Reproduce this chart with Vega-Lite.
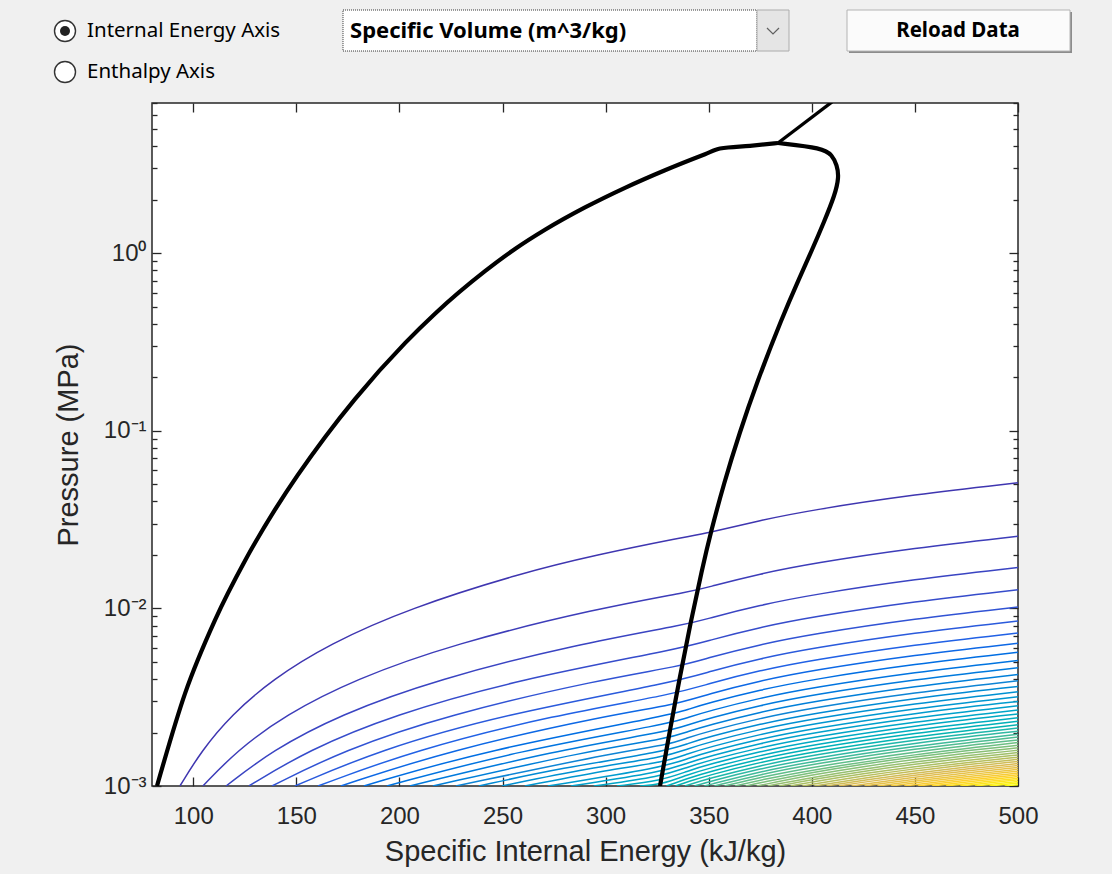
{
  "$schema": "https://vega.github.io/schema/vega-lite/v6.json",
  "width": 866,
  "height": 683,
  "autosize": {"type": "none"},
  "padding": {"left": 152, "top": 103, "right": 94, "bottom": 88},
  "background": "#f0f0f0",
  "view": {"fill": "white", "stroke": "#262626", "strokeWidth": 1.5},
  "config": {"font": "Liberation Sans"},
  "resolve": {"axis": {"x": "independent", "y": "independent"}},
  "datasets": {
    "contours": [
      {"k":1,"u":93.55,"p":0.001},{"k":1,"u":104.1,"p":0.001585},{"k":1,"u":118.5,"p":0.002512},{"k":1,"u":138.4,"p":0.003981},{"k":1,"u":166,"p":0.00631},{"k":1,"u":204.7,"p":0.01},{"k":1,"u":259.5,"p":0.01585},{"k":1,"u":295.1,"p":0.01995},{"k":1,"u":337.6,"p":0.02512},{"k":1,"u":349.3,"p":0.0265},{"k":1,"u":375,"p":0.03133},{"k":1,"u":400,"p":0.03579},{"k":1,"u":450,"p":0.04379},{"k":1,"u":500,"p":0.05089},
      {"k":2,"u":104.7,"p":0.001},{"k":2,"u":121.2,"p":0.001585},{"k":2,"u":144.7,"p":0.002512},{"k":2,"u":178.2,"p":0.003981},{"k":2,"u":226.3,"p":0.00631},{"k":2,"u":295.9,"p":0.01},{"k":2,"u":343.9,"p":0.01258},{"k":2,"u":350,"p":0.01322},{"k":2,"u":375,"p":0.01567},{"k":2,"u":400,"p":0.0179},{"k":2,"u":450,"p":0.0219},{"k":2,"u":500,"p":0.02545},
      {"k":3,"u":115.9,"p":0.001},{"k":3,"u":138.3,"p":0.001585},{"k":3,"u":170.8,"p":0.002512},{"k":3,"u":217.9,"p":0.003981},{"k":3,"u":286.7,"p":0.00631},{"k":3,"u":340.9,"p":0.00817},{"k":3,"u":350,"p":0.008813},{"k":3,"u":375,"p":0.01044},{"k":3,"u":400,"p":0.01193},{"k":3,"u":450,"p":0.0146},{"k":3,"u":500,"p":0.01696},
      {"k":4,"u":127,"p":0.001},{"k":4,"u":155.4,"p":0.001585},{"k":4,"u":196.9,"p":0.002512},{"k":4,"u":257.7,"p":0.003981},{"k":4,"u":338.7,"p":0.00601},{"k":4,"u":350,"p":0.00661},{"k":4,"u":375,"p":0.007833},{"k":4,"u":400,"p":0.008948},{"k":4,"u":450,"p":0.01095},{"k":4,"u":500,"p":0.01272},
      {"k":5,"u":138.2,"p":0.001},{"k":5,"u":172.6,"p":0.001585},{"k":5,"u":223.1,"p":0.002512},{"k":5,"u":297.5,"p":0.003981},{"k":5,"u":337,"p":0.004734},{"k":5,"u":350,"p":0.005288},{"k":5,"u":375,"p":0.006266},{"k":5,"u":400,"p":0.007158},{"k":5,"u":450,"p":0.008758},{"k":5,"u":500,"p":0.01018},
      {"k":6,"u":149.3,"p":0.001},{"k":6,"u":189.7,"p":0.001585},{"k":6,"u":249.2,"p":0.002512},{"k":6,"u":335.6,"p":0.003895},{"k":6,"u":350,"p":0.004407},{"k":6,"u":375,"p":0.005222},{"k":6,"u":400,"p":0.005965},{"k":6,"u":450,"p":0.007298},{"k":6,"u":500,"p":0.008482},
      {"k":7,"u":160.5,"p":0.001},{"k":7,"u":206.8,"p":0.001585},{"k":7,"u":275.3,"p":0.002512},{"k":7,"u":334.5,"p":0.003303},{"k":7,"u":350,"p":0.003777},{"k":7,"u":375,"p":0.004476},{"k":7,"u":400,"p":0.005113},{"k":7,"u":450,"p":0.006256},{"k":7,"u":500,"p":0.00727},
      {"k":8,"u":171.6,"p":0.001},{"k":8,"u":223.9,"p":0.001585},{"k":8,"u":301.4,"p":0.002512},{"k":8,"u":333.5,"p":0.002862},{"k":8,"u":350,"p":0.003305},{"k":8,"u":375,"p":0.003916},{"k":8,"u":400,"p":0.004474},{"k":8,"u":450,"p":0.005474},{"k":8,"u":500,"p":0.006361},
      {"k":9,"u":182.75,"p":0.001},{"k":9,"u":241,"p":0.001585},{"k":9,"u":332.6,"p":0.002522},{"k":9,"u":340,"p":0.002703},{"k":9,"u":350,"p":0.002938},{"k":9,"u":375,"p":0.003481},{"k":9,"u":400,"p":0.003977},{"k":9,"u":450,"p":0.004866},{"k":9,"u":500,"p":0.005654},
      {"k":10,"u":193.9,"p":0.001},{"k":10,"u":258.1,"p":0.001585},{"k":10,"u":331.9,"p":0.002253},{"k":10,"u":340,"p":0.002433},{"k":10,"u":350,"p":0.002644},{"k":10,"u":375,"p":0.003133},{"k":10,"u":400,"p":0.003579},{"k":10,"u":450,"p":0.004379},{"k":10,"u":500,"p":0.005089},
      {"k":11,"u":205.05,"p":0.001},{"k":11,"u":275.2,"p":0.001585},{"k":11,"u":331.2,"p":0.002034},{"k":11,"u":340,"p":0.002212},{"k":11,"u":350,"p":0.002404},{"k":11,"u":375,"p":0.002848},{"k":11,"u":400,"p":0.003254},{"k":11,"u":450,"p":0.003981},{"k":11,"u":500,"p":0.004626},
      {"k":12,"u":216.2,"p":0.001},{"k":12,"u":292.3,"p":0.001585},{"k":12,"u":330.5,"p":0.001853},{"k":12,"u":340,"p":0.002028},{"k":12,"u":350,"p":0.002203},{"k":12,"u":375,"p":0.002611},{"k":12,"u":400,"p":0.002983},{"k":12,"u":450,"p":0.003649},{"k":12,"u":500,"p":0.004241},
      {"k":13,"u":227.35,"p":0.001},{"k":13,"u":309.4,"p":0.001585},{"k":13,"u":330,"p":0.0017},{"k":13,"u":340,"p":0.001872},{"k":13,"u":350,"p":0.002034},{"k":13,"u":375,"p":0.00241},{"k":13,"u":400,"p":0.002753},{"k":13,"u":450,"p":0.003368},{"k":13,"u":500,"p":0.003915},
      {"k":14,"u":238.5,"p":0.001},{"k":14,"u":277.8,"p":0.001259},{"k":14,"u":329.4,"p":0.00157},{"k":14,"u":340,"p":0.001738},{"k":14,"u":350,"p":0.001889},{"k":14,"u":375,"p":0.002238},{"k":14,"u":400,"p":0.002556},{"k":14,"u":450,"p":0.003128},{"k":14,"u":500,"p":0.003635},
      {"k":15,"u":249.65,"p":0.001},{"k":15,"u":291.6,"p":0.001259},{"k":15,"u":328.9,"p":0.001457},{"k":15,"u":340,"p":0.001622},{"k":15,"u":350,"p":0.001763},{"k":15,"u":375,"p":0.002089},{"k":15,"u":400,"p":0.002386},{"k":15,"u":450,"p":0.002919},{"k":15,"u":500,"p":0.003393},
      {"k":16,"u":260.8,"p":0.001},{"k":16,"u":305.4,"p":0.001259},{"k":16,"u":328.45,"p":0.00136},{"k":16,"u":340,"p":0.001521},{"k":16,"u":350,"p":0.001653},{"k":16,"u":375,"p":0.001958},{"k":16,"u":400,"p":0.002237},{"k":16,"u":450,"p":0.002737},{"k":16,"u":500,"p":0.003181},
      {"k":17,"u":271.95,"p":0.001},{"k":17,"u":328,"p":0.001274},{"k":17,"u":340,"p":0.001431},{"k":17,"u":350,"p":0.001555},{"k":17,"u":375,"p":0.001843},{"k":17,"u":400,"p":0.002105},{"k":17,"u":450,"p":0.002576},{"k":17,"u":500,"p":0.002994},
      {"k":18,"u":283.1,"p":0.001},{"k":18,"u":327.6,"p":0.001198},{"k":18,"u":340,"p":0.001352},{"k":18,"u":350,"p":0.001469},{"k":18,"u":375,"p":0.001741},{"k":18,"u":400,"p":0.001988},{"k":18,"u":450,"p":0.002433},{"k":18,"u":500,"p":0.002827},
      {"k":19,"u":294.25,"p":0.001},{"k":19,"u":327.2,"p":0.001131},{"k":19,"u":340,"p":0.001281},{"k":19,"u":350,"p":0.001392},{"k":19,"u":375,"p":0.001649},{"k":19,"u":400,"p":0.001884},{"k":19,"u":450,"p":0.002305},{"k":19,"u":500,"p":0.002678},
      {"k":20,"u":305.4,"p":0.001},{"k":20,"u":326.8,"p":0.00107},{"k":20,"u":340,"p":0.001217},{"k":20,"u":350,"p":0.001322},{"k":20,"u":375,"p":0.001567},{"k":20,"u":400,"p":0.00179},{"k":20,"u":450,"p":0.00219},{"k":20,"u":500,"p":0.002545},
      {"k":21,"u":316.55,"p":0.001},{"k":21,"u":326.5,"p":0.001015},{"k":21,"u":340,"p":0.001159},{"k":21,"u":350,"p":0.001259},{"k":21,"u":375,"p":0.001492},{"k":21,"u":400,"p":0.001704},{"k":21,"u":450,"p":0.002085},{"k":21,"u":500,"p":0.002423},
      {"k":22,"u":329.5,"p":0.001},{"k":22,"u":340,"p":0.001106},{"k":22,"u":350,"p":0.001202},{"k":22,"u":375,"p":0.001424},{"k":22,"u":400,"p":0.001627},{"k":22,"u":450,"p":0.00199},{"k":22,"u":500,"p":0.002313},
      {"k":23,"u":333.9,"p":0.001},{"k":23,"u":340,"p":0.001058},{"k":23,"u":350,"p":0.00115},{"k":23,"u":375,"p":0.001362},{"k":23,"u":400,"p":0.001556},{"k":23,"u":450,"p":0.001904},{"k":23,"u":500,"p":0.002213},
      {"k":24,"u":338.5,"p":0.001},{"k":24,"u":350,"p":0.001102},{"k":24,"u":375,"p":0.001305},{"k":24,"u":400,"p":0.001491},{"k":24,"u":450,"p":0.001825},{"k":24,"u":500,"p":0.00212},
      {"k":25,"u":343.15,"p":0.001},{"k":25,"u":350,"p":0.001058},{"k":25,"u":375,"p":0.001253},{"k":25,"u":400,"p":0.001432},{"k":25,"u":450,"p":0.001752},{"k":25,"u":500,"p":0.002036},
      {"k":26,"u":347.9,"p":0.001},{"k":26,"u":375,"p":0.001205},{"k":26,"u":400,"p":0.001377},{"k":26,"u":450,"p":0.001684},{"k":26,"u":500,"p":0.001957},
      {"k":27,"u":352.8,"p":0.001},{"k":27,"u":375,"p":0.00116},{"k":27,"u":400,"p":0.001326},{"k":27,"u":450,"p":0.001622},{"k":27,"u":500,"p":0.001885},
      {"k":28,"u":357.7,"p":0.001},{"k":28,"u":375,"p":0.001119},{"k":28,"u":400,"p":0.001278},{"k":28,"u":450,"p":0.001564},{"k":28,"u":500,"p":0.001818},
      {"k":29,"u":362.8,"p":0.001},{"k":29,"u":375,"p":0.00108},{"k":29,"u":400,"p":0.001234},{"k":29,"u":450,"p":0.00151},{"k":29,"u":500,"p":0.001755},
      {"k":30,"u":367.95,"p":0.001},{"k":30,"u":375,"p":0.001044},{"k":30,"u":400,"p":0.001193},{"k":30,"u":425,"p":0.001331},{"k":30,"u":450,"p":0.00146},{"k":30,"u":475,"p":0.001581},{"k":30,"u":500,"p":0.001696},
      {"k":31,"u":373.3,"p":0.001},{"k":31,"u":400,"p":0.001155},{"k":31,"u":425,"p":0.001288},{"k":31,"u":450,"p":0.001413},{"k":31,"u":475,"p":0.00153},{"k":31,"u":500,"p":0.001642},
      {"k":32,"u":378.6,"p":0.001},{"k":32,"u":400,"p":0.001118},{"k":32,"u":425,"p":0.001248},{"k":32,"u":450,"p":0.001368},{"k":32,"u":475,"p":0.001483},{"k":32,"u":500,"p":0.00159},
      {"k":33,"u":384.1,"p":0.001},{"k":33,"u":400,"p":0.001085},{"k":33,"u":425,"p":0.00121},{"k":33,"u":450,"p":0.001327},{"k":33,"u":475,"p":0.001438},{"k":33,"u":500,"p":0.001542},
      {"k":34,"u":389.7,"p":0.001},{"k":34,"u":400,"p":0.001053},{"k":34,"u":425,"p":0.001174},{"k":34,"u":450,"p":0.001288},{"k":34,"u":475,"p":0.001395},{"k":34,"u":500,"p":0.001497},
      {"k":35,"u":395.4,"p":0.001},{"k":35,"u":425,"p":0.001141},{"k":35,"u":450,"p":0.001251},{"k":35,"u":475,"p":0.001355},{"k":35,"u":500,"p":0.001454},
      {"k":36,"u":401.2,"p":0.001},{"k":36,"u":425,"p":0.001109},{"k":36,"u":450,"p":0.001216},{"k":36,"u":475,"p":0.001318},{"k":36,"u":500,"p":0.001414},
      {"k":37,"u":407.1,"p":0.001},{"k":37,"u":425,"p":0.001079},{"k":37,"u":450,"p":0.001184},{"k":37,"u":475,"p":0.001282},{"k":37,"u":500,"p":0.001375},
      {"k":38,"u":413.2,"p":0.001},{"k":38,"u":425,"p":0.001051},{"k":38,"u":450,"p":0.001152},{"k":38,"u":475,"p":0.001248},{"k":38,"u":500,"p":0.001339},
      {"k":39,"u":419.3,"p":0.001},{"k":39,"u":450,"p":0.001123},{"k":39,"u":475,"p":0.001216},{"k":39,"u":500,"p":0.001305},
      {"k":40,"u":425.5,"p":0.001},{"k":40,"u":450,"p":0.001095},{"k":40,"u":475,"p":0.001186},{"k":40,"u":500,"p":0.001272},
      {"k":41,"u":431.8,"p":0.001},{"k":41,"u":450,"p":0.001068},{"k":41,"u":475,"p":0.001157},{"k":41,"u":500,"p":0.001241},
      {"k":42,"u":438.3,"p":0.001},{"k":42,"u":450,"p":0.001043},{"k":42,"u":475,"p":0.00113},{"k":42,"u":500,"p":0.001212},
      {"k":43,"u":444.8,"p":0.001},{"k":43,"u":475,"p":0.001103},{"k":43,"u":500,"p":0.001183},
      {"k":44,"u":451.4,"p":0.001},{"k":44,"u":475,"p":0.001078},{"k":44,"u":500,"p":0.001157},
      {"k":45,"u":458.2,"p":0.001},{"k":45,"u":475,"p":0.001054},{"k":45,"u":500,"p":0.001131},
      {"k":46,"u":465,"p":0.001},{"k":46,"u":475,"p":0.001031},{"k":46,"u":500,"p":0.001106},
      {"k":47,"u":472,"p":0.001},{"k":47,"u":500,"p":0.001083},
      {"k":48,"u":479.1,"p":0.001},{"k":48,"u":500,"p":0.00106},
      {"k":49,"u":486.2,"p":0.001},{"k":49,"u":500,"p":0.001039},
      {"k":50,"u":493.5,"p":0.001},{"k":50,"u":500,"p":0.001018}
    ],
    "liquid": [
      {"u":82.42,"p":0.001},{"u":96,"p":0.003313},{"u":110.55,"p":0.00859},{"u":125.1,"p":0.01855},{"u":139.65,"p":0.03593},{"u":163.9,"p":0.09196},{"u":178.45,"p":0.1507},{"u":202.7,"p":0.3114},{"u":217.25,"p":0.4559},{"u":241.5,"p":0.791},{"u":256.05,"p":1.0546},{"u":270.6,"p":1.3529},{"u":290,"p":1.8082},{"u":309.4,"p":2.3321},{"u":328.8,"p":2.9295},{"u":348.2,"p":3.6048},{"u":355.48,"p":3.8815},{"u":370.03,"p":4.0197},{"u":383.6,"p":4.168}
    ],
    "vapor": [
      {"i":0,"u":383.6,"p":4.168},{"i":1,"u":405.4,"p":3.905},{"i":2,"u":409.8,"p":3.566},{"i":3,"u":412.2,"p":3.133},{"i":4,"u":413.2,"p":2.683},{"i":5,"u":411.2,"p":2.124},{"i":6,"u":405.9,"p":1.496},{"i":7,"u":400.1,"p":1.041},{"i":8,"u":393.98,"p":0.7244},{"i":9,"u":385.69,"p":0.4368},{"i":10,"u":373.23,"p":0.1857},{"i":11,"u":364.93,"p":0.09712},{"i":12,"u":357.41,"p":0.05077},{"i":13,"u":350.91,"p":0.02656},{"i":14,"u":346.69,"p":0.01644},{"i":15,"u":341.17,"p":0.008273},{"i":16,"u":335.98,"p":0.004108},{"i":17,"u":330.59,"p":0.001888},{"i":18,"u":326.38,"p":0.001}
    ],
    "supercritical": [
      {"u":383.6,"p":4.168},{"u":409.8,"p":7.09}
    ]
  },
  "layer": [
    {
      "data": {"name": "contours"},
      "mark": {"type": "line", "interpolate": "basis", "strokeWidth": 1.5, "clip": true},
      "encoding": {
        "x": {"field": "u", "type": "quantitative", "scale": {"domain": [80, 500], "nice": false, "zero": false},
          "axis": {"orient": "bottom", "values": [100, 150, 200, 250, 300, 350, 400, 450, 500], "offset": -9, "tickSize": 9, "tickWidth": 1.3, "tickColor": "#262626", "domain": false, "grid": false, "labelFont": "Liberation Sans", "labelFontSize": 24, "labelColor": "#262626", "labelPadding": 18, "labelFlush": false, "labelOverlap": false, "labelBound": false, "title": "Specific Internal Energy (kJ/kg)", "titleFont": "Liberation Sans", "titleFontSize": 29, "titleFontWeight": "normal", "titleColor": "#262626", "titlePadding": 9}},
        "y": {"field": "p", "type": "quantitative", "scale": {"type": "log", "domain": [0.001, 7], "nice": false},
          "axis": {"orient": "left", "values": [0.001, 0.01, 0.1, 1], "offset": -9, "tickSize": 9, "tickWidth": 1.3, "tickColor": "#262626", "domain": false, "grid": false, "labelExpr": "datum.value < 0.005 ? '10⁻³' : datum.value < 0.05 ? '10⁻²' : datum.value < 0.5 ? '10⁻¹' : '10⁰'", "labelFont": "Liberation Sans", "labelFontSize": 24, "labelColor": "#262626", "labelPadding": 6, "labelFlush": false, "labelOverlap": false, "labelBound": false, "title": "Pressure (MPa)", "titleFont": "Liberation Sans", "titleFontSize": 29, "titleFontWeight": "normal", "titleColor": "#262626", "titlePadding": 20}},
        "detail": {"field": "k", "type": "nominal"},
        "color": {"field": "k", "type": "quantitative", "legend": null,
          "scale": {"domain": [1, 7.125, 13.25, 19.375, 25.5, 31.625, 37.75, 43.875, 50], "range": ["#3f36b0", "#1f62e6", "#1485d4", "#06a7c6", "#38b99e", "#92bf73", "#d9ba56", "#fcce2e", "#f9fb0e"]}}
      }
    },
    {
      "data": {"name": "liquid"},
      "mark": {"type": "line", "interpolate": "monotone", "strokeWidth": 4.2, "color": "black", "clip": true, "strokeJoin": "round"},
      "encoding": {
        "x": {"field": "u", "type": "quantitative", "scale": {"domain": [80, 500], "nice": false, "zero": false},
          "axis": {"orient": "top", "values": [100, 150, 200, 250, 300, 350, 400, 450, 500], "offset": -9, "tickSize": 9, "tickWidth": 1.3, "tickColor": "#262626", "domain": false, "grid": false, "labels": false, "title": null}},
        "y": {"field": "p", "type": "quantitative", "scale": {"type": "log", "domain": [0.001, 7], "nice": false},
          "axis": {"orient": "right", "values": [0.001, 0.01, 0.1, 1], "offset": -9, "tickSize": 9, "tickWidth": 1.3, "tickColor": "#262626", "domain": false, "grid": false, "labels": false, "title": null}}
      }
    },
    {
      "data": {"name": "vapor"},
      "mark": {"type": "line", "interpolate": "basis", "strokeWidth": 4.2, "color": "black", "clip": true, "strokeJoin": "round"},
      "encoding": {
        "x": {"field": "u", "type": "quantitative", "scale": {"domain": [80, 500], "nice": false, "zero": false}, "axis": null},
        "y": {"field": "p", "type": "quantitative", "scale": {"type": "log", "domain": [0.001, 7], "nice": false},
          "axis": {"orient": "left", "values": [0.002, 0.003, 0.004, 0.005, 0.006, 0.007, 0.008, 0.009, 0.02, 0.03, 0.04, 0.05, 0.06, 0.07, 0.08, 0.09, 0.2, 0.3, 0.4, 0.5, 0.6, 0.7, 0.8, 0.9, 2, 3, 4, 5, 6, 7], "offset": -5, "tickSize": 5, "tickWidth": 1.3, "tickColor": "#262626", "domain": false, "grid": false, "labels": false, "title": null}},
        "order": {"field": "i", "type": "quantitative"}
      }
    },
    {
      "data": {"name": "supercritical"},
      "mark": {"type": "line", "strokeWidth": 3.4, "color": "black", "clip": true},
      "encoding": {
        "x": {"field": "u", "type": "quantitative", "scale": {"domain": [80, 500], "nice": false, "zero": false}, "axis": null},
        "y": {"field": "p", "type": "quantitative", "scale": {"type": "log", "domain": [0.001, 7], "nice": false},
          "axis": {"orient": "right", "values": [0.002, 0.003, 0.004, 0.005, 0.006, 0.007, 0.008, 0.009, 0.02, 0.03, 0.04, 0.05, 0.06, 0.07, 0.08, 0.09, 0.2, 0.3, 0.4, 0.5, 0.6, 0.7, 0.8, 0.9, 2, 3, 4, 5, 6, 7], "offset": -5, "tickSize": 5, "tickWidth": 1.3, "tickColor": "#262626", "domain": false, "grid": false, "labels": false, "title": null}}
      }
    },
    {
      "data": {"values": [{"control": "radio 1"}]},
      "mark": {"type": "point", "shape": "circle", "size": 441, "filled": true, "fill": "white", "stroke": "#333333", "strokeWidth": 1.4, "opacity": 1},
      "encoding": {"x": {"datum": 37.81, "type": "quantitative", "axis": null}, "y": {"datum": 17.8, "type": "quantitative", "axis": null}}
    },
    {
      "data": {"values": [{"control": "radio 1 dot"}]},
      "mark": {"type": "point", "shape": "circle", "size": 100, "filled": true, "fill": "#222222", "strokeWidth": 0, "opacity": 1},
      "encoding": {"x": {"datum": 37.81, "type": "quantitative", "axis": null}, "y": {"datum": 17.8, "type": "quantitative", "axis": null}}
    },
    {
      "data": {"values": [{"control": "radio 2"}]},
      "mark": {"type": "point", "shape": "circle", "size": 441, "filled": true, "fill": "white", "stroke": "#333333", "strokeWidth": 1.4, "opacity": 1},
      "encoding": {"x": {"datum": 37.81, "type": "quantitative", "axis": null}, "y": {"datum": 10.46, "type": "quantitative", "axis": null}}
    },
    {
      "data": {"values": [{"label": "Internal Energy Axis"}]},
      "mark": {"type": "text", "align": "left", "baseline": "middle", "font": "Noto Sans", "fontSize": 20.5, "color": "#000000"},
      "encoding": {"x": {"datum": 48.48, "type": "quantitative", "axis": null}, "y": {"datum": 17.8, "type": "quantitative", "axis": null}, "text": {"field": "label"}}
    },
    {
      "data": {"values": [{"label": "Enthalpy Axis"}]},
      "mark": {"type": "text", "align": "left", "baseline": "middle", "font": "Noto Sans", "fontSize": 20.5, "color": "#000000"},
      "encoding": {"x": {"datum": 48.48, "type": "quantitative", "axis": null}, "y": {"datum": 10.46, "type": "quantitative", "axis": null}, "text": {"field": "label"}}
    },
    {
      "data": {"values": [{"control": "dropdown box"}]},
      "mark": {"type": "rect", "fill": "white", "stroke": "#333333", "strokeWidth": 1, "strokeDash": [1, 1]},
      "encoding": {"x": {"datum": 172.63, "type": "quantitative", "axis": null}, "x2": {"datum": 373.42}, "y": {"datum": 23.37, "type": "quantitative", "axis": null}, "y2": {"datum": 13.73}}
    },
    {
      "data": {"values": [{"control": "dropdown arrow box"}]},
      "mark": {"type": "rect", "fill": "#e5e5e5", "stroke": "#adadad", "strokeWidth": 1},
      "encoding": {"x": {"datum": 373.42, "type": "quantitative", "axis": null}, "x2": {"datum": 388.94}, "y": {"datum": 23.37, "type": "quantitative", "axis": null}, "y2": {"datum": 13.73}}
    },
    {
      "data": {"values": [{"control": "dropdown chevron"}]},
      "mark": {"type": "point", "shape": "M-1,-0.5L0,0.5L1,-0.5", "size": 144, "filled": false, "stroke": "#606060", "strokeWidth": 1.2, "opacity": 1},
      "encoding": {"x": {"datum": 381.18, "type": "quantitative", "axis": null}, "y": {"datum": 17.8, "type": "quantitative", "axis": null}}
    },
    {
      "data": {"values": [{"label": "Specific Volume (m^3/kg)"}]},
      "mark": {"type": "text", "align": "left", "baseline": "middle", "font": "Noto Sans", "fontSize": 22, "fontWeight": "bold", "color": "#000000"},
      "encoding": {"x": {"datum": 176.03, "type": "quantitative", "axis": null}, "y": {"datum": 17.8, "type": "quantitative", "axis": null}, "text": {"field": "label"}}
    },
    {
      "data": {"values": [{"control": "button shadow"}]},
      "mark": {"type": "rect", "fill": "#8c8c8c"},
      "encoding": {"x": {"datum": 418.04, "type": "quantitative", "axis": null}, "x2": {"datum": 526.19}, "y": {"datum": 22.78, "type": "quantitative", "axis": null}, "y2": {"datum": 13.38}}
    },
    {
      "data": {"values": [{"control": "button"}]},
      "mark": {"type": "rect", "fill": "#fbfbfb", "stroke": "#b4b4b4", "strokeWidth": 1},
      "encoding": {"x": {"datum": 417.07, "type": "quantitative", "axis": null}, "x2": {"datum": 525.22}, "y": {"datum": 23.37, "type": "quantitative", "axis": null}, "y2": {"datum": 13.73}}
    },
    {
      "data": {"values": [{"label": "Reload Data"}]},
      "mark": {"type": "text", "align": "center", "baseline": "middle", "font": "Noto Sans", "fontSize": 20.5, "fontWeight": "bold", "color": "#000000"},
      "encoding": {"x": {"datum": 470.9, "type": "quantitative", "axis": null}, "y": {"datum": 17.8, "type": "quantitative", "axis": null}, "text": {"field": "label"}}
    }
  ]
}
